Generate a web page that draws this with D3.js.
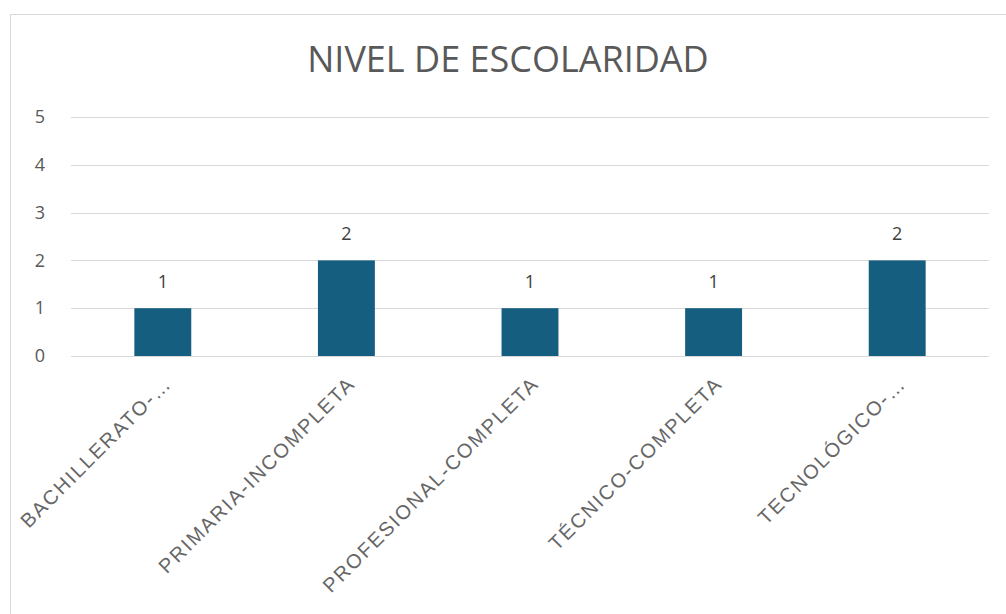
<!DOCTYPE html>
<html>
<head>
<meta charset="utf-8">
<script src="https://cdn.jsdelivr.net/npm/d3@7"></script>
<style>
  body { margin: 0; background: #fff; }
</style>
</head>
<body>
<svg id="chart"></svg>
<script>
let width = 1006, height = 614;
let margin = { top: 117, right: 17, bottom: 258, left: 71 };

// Data
let categories = ["BACHILLERATO-…", "PRIMARIA-INCOMPLETA", "PROFESIONAL-COMPLETA", "TÉCNICO-COMPLETA", "TECNOLÓGICO-…"];
let values = [1, 2, 1, 1, 2];
let yTicks = [0, 1, 2, 3, 4, 5];
let title = "NIVEL DE ESCOLARIDAD";

let svg = d3.select("#chart")
  .attr("width", width)
  .attr("height", height)
  .attr("viewBox", [0, 0, width, height]);

// Chart border
svg.append("rect")
  .attr("x", 10.5)
  .attr("y", 14.5)
  .attr("width", width)
  .attr("height", height)
  .attr("fill", "white")
  .attr("stroke", "#d9d9d9");

// Scales
let xScale = d3.scaleBand()
  .domain(categories)
  .range([margin.left, width - margin.right])
  .paddingInner(0.69)
  .paddingOuter(0.345);

let yScale = d3.scaleLinear()
  .domain([0, 5])
  .range([height - margin.bottom, margin.top]);

// Gridlines
svg.append("g")
  .selectAll("line")
  .data(yTicks)
  .join("line")
  .attr("x1", margin.left)
  .attr("x2", width - margin.right)
  .attr("y1", d => Math.round(yScale(d)) + 0.5)
  .attr("y2", d => Math.round(yScale(d)) + 0.5)
  .attr("stroke", "#d9d9d9")
  .attr("stroke-width", 1);

// Y axis labels
let yAxis = d3.axisLeft(yScale)
  .tickValues(yTicks)
  .tickFormat(d3.format("d"))
  .tickSize(0)
  .tickPadding(0);
svg.append("g")
  .attr("transform", `translate(40,0)`)
  .call(yAxis)
  .call(g => g.select(".domain").remove())
  .selectAll("text")
  .attr("text-anchor", "middle")
  .style("font-family", "'Open Sans', sans-serif")
  .style("font-size", "18px")
  .style("fill", "#595959");

// Bars
svg.append("g")
  .selectAll("rect")
  .data(values)
  .join("rect")
  .attr("x", (d, i) => xScale(categories[i]))
  .attr("y", d => yScale(d))
  .attr("width", xScale.bandwidth())
  .attr("height", d => yScale(0) - yScale(d))
  .attr("fill", "#165e80");

// Data labels
svg.append("g")
  .selectAll("text")
  .data(values)
  .join("text")
  .attr("x", (d, i) => xScale(categories[i]) + xScale.bandwidth() / 2)
  .attr("y", d => yScale(d) - 20)
  .attr("text-anchor", "middle")
  .style("font-family", "'Open Sans', sans-serif")
  .style("font-size", "18px")
  .style("fill", "#404040")
  .text(d => d);

// Category labels
let xAxis = d3.axisBottom(xScale).tickSize(0).tickPadding(0);
svg.append("g")
  .attr("transform", `translate(0,${height - margin.bottom})`)
  .call(xAxis)
  .call(g => g.select(".domain").remove())
  .selectAll("text")
  .attr("text-anchor", "end")
  .attr("dy", "0.35em")
  .attr("transform", "translate(5,24) rotate(-45)")
  .style("font-family", "'Liberation Sans', Arial, sans-serif")
  .style("font-size", "20px")
  .style("letter-spacing", "1.9px")
  .style("fill", "#666666");

// Title
svg.append("text")
  .attr("x", 508)
  .attr("y", 72)
  .attr("text-anchor", "middle")
  .style("font-family", "'Open Sans', sans-serif")
  .style("font-size", "36px")
  .style("fill", "#595959")
  .text(title);
</script>
</body>
</html>
